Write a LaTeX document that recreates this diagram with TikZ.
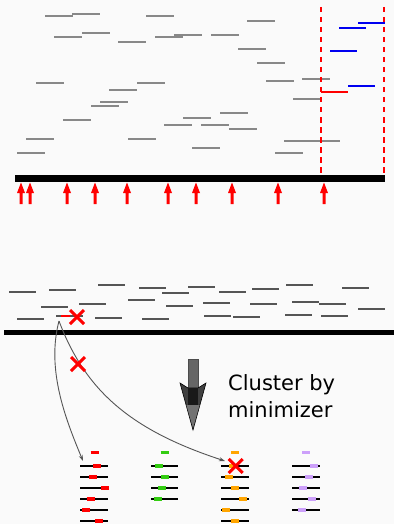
\documentclass[tikz,border=0pt]{standalone}
\usepackage{fontspec}
\setmainfont{DejaVu Sans}
\usetikzlibrary{arrows.meta}
\definecolor{bg}{RGB}{250,250,250}
\definecolor{topgray}{RGB}{136,136,136}
\definecolor{lowgray}{RGB}{85,85,85}
\definecolor{myblue}{RGB}{0,0,240}
\definecolor{mygreen}{RGB}{51,204,17}
\definecolor{myorange}{RGB}{255,165,0}
\definecolor{mypurple}{RGB}{204,160,250}
\tikzset{
  topseg/.style={draw=topgray, line width=2pt},
  lowseg/.style={draw=lowgray, line width=2pt},
  bar/.style={draw=black},
  redarrow/.style={fill=red, draw=none},
  refline/.style={draw=black, line width=1.5pt},
  mini/.style={line width=3.2pt},
  curve/.style={draw=lowgray, line width=0.9pt, -{Stealth[length=6pt,width=4pt]}},
  xmark/.pic={\draw[red, line width=3pt] (-7,-7) -- (7,7) (-7,7) -- (7,-7);},
  label/.style={anchor=base west, inner sep=0pt, font=\fontsize{21}{25}\selectfont}
}
\begin{document}
\begin{tikzpicture}[x=1pt,y=-1pt]
\fill[bg] (0,0) rectangle (394,524);
\useasboundingbox (0,0) rectangle (394,524);
% top reads
\foreach \x/\y in {45/16,72/14,146/16,54/37,82/33,118/42,155/37,174/35,36/83,137/83,109/90,100/102,91/106,63/120,183/118,164/125,26/139,128/139,192/148,17/153,247/21,211/35,238/49,257/63,266/81,302/79,293/99,220/113,201/125,229/129,284/141,312/141,275/153}
  \draw[topseg] (\x,\y) -- ++(27.5,0);
\foreach \x/\y in {358/23,339/28,330/51,348/86}
  \draw[myblue, line width=2pt] (\x,\y) -- ++(27,0);
\draw[red, line width=2pt] (321,92) -- (348,92);
% dashed window
\draw[red, line width=2.2pt, dash pattern=on 5.5pt off 4.5pt] (321,7) -- (321,178);
\draw[red, line width=2.2pt, dash pattern=on 5.5pt off 4.5pt] (384,7) -- (384,178);
% top reference bar
\draw[bar, line width=7pt] (15,178) -- (385,178);
% red arrows
\foreach \x in {21,30,67,95,127,168,196,232,278,324}
  \fill[redarrow] (\x-1.5,204) -- (\x-1.5,193) -- (\x-4,193) -- (\x,182.5) -- (\x+4,193) -- (\x+1.5,193) -- (\x+1.5,204) -- cycle;
% lower reads
\foreach \x/\y in {9/292,49/290,98/285,139/288,162/293,188/287,219/292,252/289,286/285,342/288,41/307,79/304,128/300,166/306,203/303,250/304,292/302,319/304,358/309,17/319,56/316,95/318,142/319,204/316,233/317,285/315,321/316}
  \draw[lowseg] (\x,\y) -- ++(27,0);
\draw[red, line width=2pt] (61,316) -- (70,316);
\pic at (77,317) {xmark};
% lower reference bar
\draw[bar, line width=5pt] (4,332.7) -- (394,332.7);
% curves
\coordinate (s) at (59,321);
\coordinate (e1) at (83,461);
\coordinate (e2) at (225,461);
\draw[curve] (s) .. controls (46,370) and (66,420) .. (e1);
\draw[curve] (s) .. controls (85,390) and (130,430) .. (e2);
\pic at (78,364) {xmark};
% big arrow
\fill[lowgray!90!white, draw=black!70, line width=0.5pt] (188,359) rectangle (198,388);
\fill[black!75, draw=black, line width=0.6pt] (180,383) -- (188,388) -- (198,388) -- (206,383) -- (193,430) -- cycle;
\fill[black!90] (188,388) -- (198,388) -- (198,405) -- (188,405) -- cycle;
\fill[black!55] (186.5,405) -- (199.5,405) -- (193,428) -- cycle;
% text
\node[label] (t1) at (228,390) {Cluster by};
\node[label] (t2) at (228,417) {minimizer};
% clusters: headers
\draw[red, mini] (90.7,452.7) -- ++(8,0);
\draw[mygreen, mini] (160.7,452.7) -- ++(8,0);
\draw[myorange, mini] (231.3,452.7) -- ++(8,0);
\draw[mypurple, mini] (302,452.7) -- ++(8,0);
% column 1
\foreach \y/\m in {466/93.3,477/89.3,488/101,499/86.7,510/82.3,521/95.3}{
  \draw[refline] (80,\y) -- (108,\y);
  \draw[red, mini] (\m,\y) -- ++(8,0);}
% column 2
\foreach \y/\m in {466/155,477/161,488/158.3,499/153.7}{
  \draw[refline] (151,\y) -- (178.3,\y);
  \draw[mygreen, mini] (\m,\y) -- ++(8,0);}
% column 3
\foreach \y/\m in {466/229,477/225,488/231,499/239.3,510/222.3,521/231}{
  \draw[refline] (221,\y) -- (249,\y);
  \draw[myorange, mini] (\m,\y) -- ++(8,0);}
% column 4
\foreach \y/\m in {466/310,477/305,488/299,499/308,510/297.7}{
  \draw[refline] (292.3,\y) -- (320,\y);
  \draw[mypurple, mini] (\m,\y) -- ++(8,0);}
\pic at (235.7,466) {xmark};
\end{tikzpicture}
\end{document}
